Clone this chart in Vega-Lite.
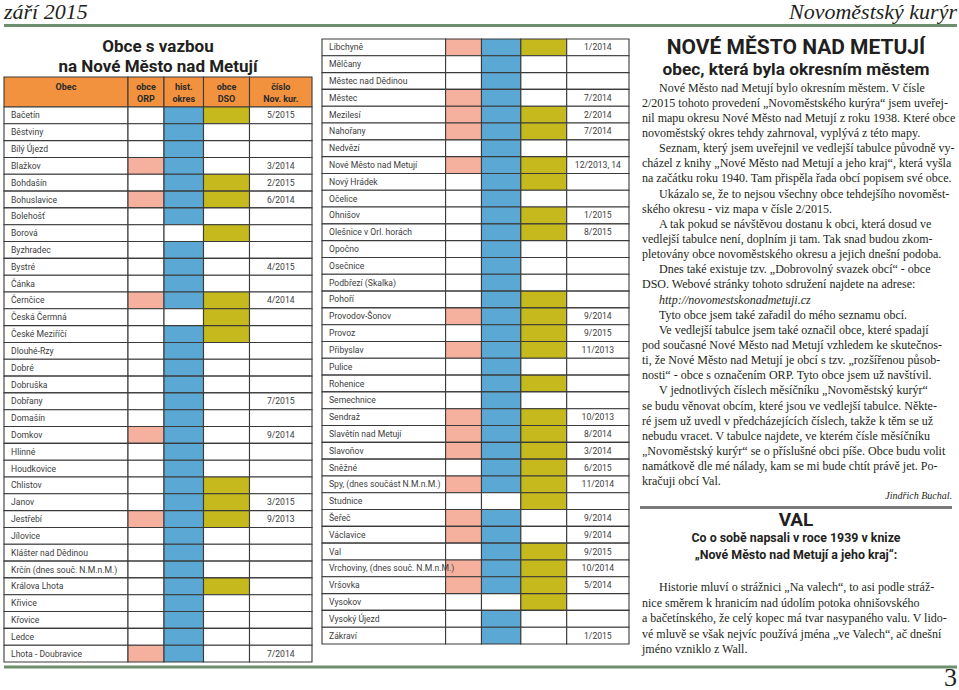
{
"$schema": "https://vega.github.io/schema/vega-lite/v6.json",
"padding": {"left": 2, "top": 0, "right": 0, "bottom": 0},
"background": "white",
"config": {"view": {"stroke": null}},
"datasets": {
"cols": [{"col":"obec","x0":0,"x1":124},{"col":"orp","x0":124,"x1":160},{"col":"okres","x0":160,"x1":199.5},{"col":"dso","x0":199.5,"x1":245.5},{"col":"cislo","x0":245.5,"x1":308}],
"hdr": [{"col":"obec","line":1,"t":"Obec"},{"col":"orp","line":1,"t":"obce"},{"col":"orp","line":2,"t":"ORP"},{"col":"okres","line":1,"t":"hist."},{"col":"okres","line":2,"t":"okres"},{"col":"dso","line":1,"t":"obce"},{"col":"dso","line":2,"t":"DSO"},{"col":"cislo","line":1,"t":"číslo"},{"col":"cislo","line":2,"t":"Nov. kur."}],
"top": [{"t":"září 2015","pos":"left"},{"t":"Novoměstský kurýr","pos":"right"}],
"ttl": [{"ln":1,"t":"Obce s vazbou"},{"ln":2,"t":"na Nové Město nad Metují"}],
"left": [
{"obec":"Bačetín","orp":0,"okres":1,"dso":1,"cislo":"5/2015"},
{"obec":"Běstviny","orp":0,"okres":1,"dso":0,"cislo":""},
{"obec":"Bílý Újezd","orp":0,"okres":1,"dso":0,"cislo":""},
{"obec":"Blažkov","orp":1,"okres":1,"dso":0,"cislo":"3/2014"},
{"obec":"Bohdašín","orp":0,"okres":1,"dso":1,"cislo":"2/2015"},
{"obec":"Bohuslavice","orp":1,"okres":1,"dso":1,"cislo":"6/2014"},
{"obec":"Bolehošť","orp":0,"okres":1,"dso":0,"cislo":""},
{"obec":"Borová","orp":0,"okres":0,"dso":1,"cislo":""},
{"obec":"Byzhradec","orp":0,"okres":1,"dso":0,"cislo":""},
{"obec":"Bystré","orp":0,"okres":1,"dso":0,"cislo":"4/2015"},
{"obec":"Čánka","orp":0,"okres":1,"dso":0,"cislo":""},
{"obec":"Černčice","orp":1,"okres":1,"dso":1,"cislo":"4/2014"},
{"obec":"Česká Čermná","orp":0,"okres":0,"dso":1,"cislo":""},
{"obec":"České Meziříčí","orp":0,"okres":1,"dso":1,"cislo":""},
{"obec":"Dlouhé-Rzy","orp":0,"okres":1,"dso":0,"cislo":""},
{"obec":"Dobré","orp":0,"okres":1,"dso":0,"cislo":""},
{"obec":"Dobruška","orp":0,"okres":1,"dso":0,"cislo":""},
{"obec":"Dobřany","orp":0,"okres":1,"dso":0,"cislo":"7/2015"},
{"obec":"Domašín","orp":0,"okres":1,"dso":0,"cislo":""},
{"obec":"Domkov","orp":1,"okres":1,"dso":0,"cislo":"9/2014"},
{"obec":"Hlinné","orp":0,"okres":1,"dso":0,"cislo":""},
{"obec":"Houdkovice","orp":0,"okres":1,"dso":0,"cislo":""},
{"obec":"Chlistov","orp":0,"okres":1,"dso":1,"cislo":""},
{"obec":"Janov","orp":0,"okres":1,"dso":1,"cislo":"3/2015"},
{"obec":"Jestřebí","orp":1,"okres":1,"dso":1,"cislo":"9/2013"},
{"obec":"Jílovice","orp":0,"okres":1,"dso":0,"cislo":""},
{"obec":"Klášter nad Dědinou","orp":0,"okres":1,"dso":0,"cislo":""},
{"obec":"Krčín (dnes souč. N.M.n.M.)","orp":0,"okres":1,"dso":0,"cislo":""},
{"obec":"Králova Lhota","orp":0,"okres":1,"dso":1,"cislo":""},
{"obec":"Křivice","orp":0,"okres":1,"dso":0,"cislo":""},
{"obec":"Křovice","orp":0,"okres":1,"dso":0,"cislo":""},
{"obec":"Ledce","orp":0,"okres":1,"dso":0,"cislo":""},
{"obec":"Lhota - Doubravice","orp":1,"okres":1,"dso":0,"cislo":"7/2014"}
],
"mid": [
{"obec":"Libchyně","orp":1,"okres":1,"dso":1,"cislo":"1/2014"},
{"obec":"Mělčany","orp":0,"okres":1,"dso":0,"cislo":""},
{"obec":"Městec nad Dědinou","orp":0,"okres":1,"dso":0,"cislo":""},
{"obec":"Městec","orp":1,"okres":1,"dso":0,"cislo":"7/2014"},
{"obec":"Mezilesí","orp":1,"okres":1,"dso":1,"cislo":"2/2014"},
{"obec":"Nahořany","orp":1,"okres":1,"dso":1,"cislo":"7/2014"},
{"obec":"Nedvězí","orp":0,"okres":1,"dso":0,"cislo":""},
{"obec":"Nové Město nad Metují","orp":1,"okres":1,"dso":1,"cislo":"12/2013, 14"},
{"obec":"Nový Hrádek","orp":0,"okres":1,"dso":1,"cislo":""},
{"obec":"Očelice","orp":0,"okres":1,"dso":0,"cislo":""},
{"obec":"Ohnišov","orp":0,"okres":1,"dso":1,"cislo":"1/2015"},
{"obec":"Olešnice v Orl. horách","orp":0,"okres":1,"dso":1,"cislo":"8/2015"},
{"obec":"Opočno","orp":0,"okres":1,"dso":0,"cislo":""},
{"obec":"Osečnice","orp":0,"okres":1,"dso":0,"cislo":""},
{"obec":"Podbřezí (Skalka)","orp":0,"okres":1,"dso":0,"cislo":""},
{"obec":"Pohoří","orp":0,"okres":1,"dso":1,"cislo":""},
{"obec":"Provodov-Šonov","orp":1,"okres":1,"dso":1,"cislo":"9/2014"},
{"obec":"Provoz","orp":0,"okres":1,"dso":1,"cislo":"9/2015"},
{"obec":"Přibyslav","orp":1,"okres":1,"dso":1,"cislo":"11/2013"},
{"obec":"Pulice","orp":0,"okres":1,"dso":0,"cislo":""},
{"obec":"Rohenice","orp":0,"okres":1,"dso":1,"cislo":""},
{"obec":"Semechnice","orp":0,"okres":1,"dso":0,"cislo":""},
{"obec":"Sendraž","orp":1,"okres":1,"dso":1,"cislo":"10/2013"},
{"obec":"Slavětín nad Metují","orp":1,"okres":1,"dso":1,"cislo":"8/2014"},
{"obec":"Slavoňov","orp":1,"okres":1,"dso":1,"cislo":"3/2014"},
{"obec":"Sněžné","orp":0,"okres":1,"dso":1,"cislo":"6/2015"},
{"obec":"Spy, (dnes součást N.M.n.M.)","orp":1,"okres":1,"dso":1,"cislo":"11/2014"},
{"obec":"Studnice","orp":0,"okres":0,"dso":1,"cislo":""},
{"obec":"Šeřeč","orp":1,"okres":1,"dso":0,"cislo":"9/2014"},
{"obec":"Václavice","orp":1,"okres":1,"dso":0,"cislo":"9/2014"},
{"obec":"Val","orp":0,"okres":1,"dso":1,"cislo":"9/2015"},
{"obec":"Vrchoviny, (dnes souč. N.M.n.M.)","orp":1,"okres":1,"dso":1,"cislo":"10/2014"},
{"obec":"Vršovka","orp":1,"okres":1,"dso":1,"cislo":"5/2014"},
{"obec":"Vysokov","orp":0,"okres":0,"dso":1,"cislo":""},
{"obec":"Vysoký Újezd","orp":0,"okres":1,"dso":0,"cislo":""},
{"obec":"Zákraví","orp":0,"okres":1,"dso":0,"cislo":"1/2015"}
],
"rh": [{"ln":1,"t":"NOVÉ MĚSTO NAD METUJÍ"},{"ln":2,"t":"obec, která byla okresním městem"}],
"txt1": [
{"ln":0,"k":"p","t":"Nové Město nad Metují bylo okresním městem. V čísle"},
{"ln":1,"k":"c","t":"2/2015 tohoto provedení „Novoměstského kurýra“ jsem uveřej-"},
{"ln":2,"k":"c","t":"nil mapu okresu Nové Město nad Metují z roku 1938. Které obce"},
{"ln":3,"k":"c","t":"novoměstský okres tehdy zahrnoval, vyplývá z této mapy."},
{"ln":4,"k":"p","t":"Seznam, který jsem uveřejnil ve vedlejší tabulce původně vy-"},
{"ln":5,"k":"c","t":"cházel z knihy „Nové Město nad Metují a jeho kraj“, která vyšla"},
{"ln":6,"k":"c","t":"na začátku roku 1940. Tam přispěla řada obcí popisem své obce."},
{"ln":7,"k":"p","t":"Ukázalo se, že to nejsou všechny obce tehdejšího novoměst-"},
{"ln":8,"k":"c","t":"ského okresu - viz mapa v čísle 2/2015."},
{"ln":9,"k":"p","t":"A tak pokud se návštěvou dostanu k obci, která dosud ve"},
{"ln":10,"k":"c","t":"vedlejší tabulce není, doplním ji tam. Tak snad budou zkom-"},
{"ln":11,"k":"c","t":"pletovány obce novoměstského okresu a jejich dnešní podoba."},
{"ln":12,"k":"p","t":"Dnes také existuje tzv. „Dobrovolný svazek obcí“ - obce"},
{"ln":13,"k":"c","t":"DSO. Webové stránky tohoto sdružení najdete na adrese:"},
{"ln":14,"k":"url","t":"http://novomestskonadmetuji.cz"},
{"ln":15,"k":"p","t":"Tyto obce jsem také zařadil do mého seznamu obcí."},
{"ln":16,"k":"p","t":"Ve vedlejší tabulce jsem také označil obce, které spadají"},
{"ln":17,"k":"c","t":"pod současné Nové Město nad Metují vzhledem ke skutečnos-"},
{"ln":18,"k":"c","t":"ti, že Nové Město nad Metují je obcí s tzv. „rozšířenou působ-"},
{"ln":19,"k":"c","t":"nosti“ - obce s označením ORP.  Tyto obce jsem už navštívil."},
{"ln":20,"k":"p","t":"V jednotlivých číslech měsíčníku „Novoměstský kurýr“"},
{"ln":21,"k":"c","t":"se budu věnovat obcím, které jsou ve vedlejší tabulce. Někte-"},
{"ln":22,"k":"c","t":"ré jsem už uvedl v předcházejících číslech, takže k těm se už"},
{"ln":23,"k":"c","t":"nebudu vracet. V tabulce najdete, ve kterém čísle měsíčníku"},
{"ln":24,"k":"c","t":"„Novoměstský kurýr“ se o příslušné obci píše. Obce budu volit"},
{"ln":25,"k":"c","t":"namátkově dle mé nálady, kam se mi bude chtít právě jet. Po-"},
{"ln":26,"k":"c","t":"kračuji obcí Val."},
{"ln":27,"k":"sig","t":"Jindřich Buchal."}
],
"valh": [{"ln":1,"t":"VAL"},{"ln":2,"t":"Co o sobě napsali v roce 1939 v knize"},{"ln":3,"t":"„Nové Město nad Metují a jeho kraj“:"}],
"txt2": [
{"ln":1,"k":"p","t":"Historie mluví o strážnici „Na valech“, to asi podle stráž-"},
{"ln":2,"k":"c","t":"nice směrem k hranicím nad údolím potoka ohnišovského"},
{"ln":3,"k":"c","t":"a bačetínského, že celý kopec má tvar nasypaného valu. V lido-"},
{"ln":4,"k":"c","t":"vé mluvě se však nejvíc používá jména „ve Valech“, ač dnešní"},
{"ln":5,"k":"c","t":"jméno vzniklo z Wall."}
]
},
"spacing": 0,
"vconcat": [
{
"width": 953, "height": 23,
"data": {"name": "top"},
"layer": [
{"transform": [{"filter": "datum.pos === 'left'"}], "mark": {"type": "text", "align": "left", "baseline": "middle", "font": "Liberation Serif", "fontStyle": "italic", "fontSize": 22, "color": "#231f20"}, "encoding": {"x": {"datum": 0, "type": "quantitative", "scale": {"domain": [0, 1], "nice": false}, "axis": null}, "text": {"field": "t"}}},
{"transform": [{"filter": "datum.pos === 'right'"}], "mark": {"type": "text", "align": "right", "baseline": "middle", "font": "Liberation Serif", "fontStyle": "italic", "fontSize": 22, "color": "#231f20"}, "encoding": {"x": {"datum": 1, "type": "quantitative"}, "text": {"field": "t"}}}
]
},
{
"width": 953, "height": 5,
"data": {"values": [{}]},
"mark": {"type": "rule", "color": "#6e8f6e", "strokeWidth": 3},
"encoding": {"y": {"datum": 0.5, "type": "quantitative", "scale": {"domain": [0, 1], "nice": false}, "axis": null}}
},
{
"hconcat": [
{
"vconcat": [
{
"width": 308, "height": 49,
"data": {"name": "ttl"},
"mark": {"type": "text", "align": "center", "baseline": "middle", "font": "Roboto", "fontWeight": "bold", "fontSize": 17, "color": "#231f20"},
"encoding": {
"x": {"datum": 0.5, "type": "quantitative", "scale": {"domain": [0, 1], "nice": false}, "axis": null},
"y": {"field": "ln", "type": "ordinal", "scale": {"type": "point", "padding": 0.725, "align": 0.655}, "axis": null},
"text": {"field": "t"}
}
},
{
"width": 308, "height": 30,
"layer": [
{"data": {"name": "cols"}, "mark": {"type": "rect", "fill": "#f3923e", "stroke": "#3a3a3a", "strokeWidth": 1.1}, "encoding": {"x": {"field": "x0", "type": "quantitative", "scale": {"domain": [0, 308], "nice": false, "zero": false}, "axis": null}, "x2": {"field": "x1"}}},
{"data": {"name": "hdr"}, "transform": [{"lookup": "col", "from": {"data": {"name": "cols"}, "key": "col", "fields": ["x0", "x1"]}}, {"calculate": "(datum.x0 + datum.x1) / 2", "as": "xm"}],
"mark": {"type": "text", "align": "center", "baseline": "middle", "font": "Roboto", "fontWeight": "bold", "fontSize": 9, "color": "#2b2b2b"},
"encoding": {"x": {"field": "xm", "type": "quantitative"}, "y": {"field": "line", "type": "ordinal", "scale": {"type": "point", "padding": 0.75, "align": 0.556}, "axis": null}, "text": {"field": "t"}}}
]
},
{
"width": 308, "height": 555,
"data": {"name": "left"},
"encoding": {"y": {"field": "obec", "type": "nominal", "sort": null, "scale": {"type": "band", "paddingInner": 0, "paddingOuter": 0}, "axis": null}},
"layer": [
{"transform": [{"fold": ["obec", "orp", "okres", "dso", "cislo"], "as": ["col", "v"]}, {"lookup": "col", "from": {"data": {"name": "cols"}, "key": "col", "fields": ["x0", "x1"]}}, {"calculate": "(datum.col !== 'obec' && datum.col !== 'cislo' && datum.v === 1) ? datum.col : 'none'", "as": "fc"}],
"mark": {"type": "rect", "stroke": "#3a3a3a", "strokeWidth": 1.1},
"encoding": {"x": {"field": "x0", "type": "quantitative", "scale": {"domain": [0, 308], "nice": false, "zero": false}, "axis": null}, "x2": {"field": "x1"}, "fill": {"field": "fc", "type": "nominal", "scale": {"domain": ["none", "orp", "okres", "dso"], "range": ["#ffffff", "#f6b19e", "#5aa8d3", "#c5b91e"]}, "legend": null}}},
{"mark": {"type": "text", "align": "left", "baseline": "middle", "dx": 7, "font": "Roboto", "fontSize": 8.6, "color": "#3d3d3d"}, "encoding": {"x": {"datum": 0, "type": "quantitative"}, "text": {"field": "obec"}}},
{"transform": [{"calculate": "'cislo'", "as": "col"}, {"lookup": "col", "from": {"data": {"name": "cols"}, "key": "col", "fields": ["x0", "x1"]}}, {"calculate": "(datum.x0 + datum.x1) / 2", "as": "xm"}],
"mark": {"type": "text", "align": "center", "baseline": "middle", "font": "Roboto", "fontSize": 8.6, "color": "#3d3d3d"}, "encoding": {"x": {"field": "xm", "type": "quantitative"}, "text": {"field": "cislo"}}}
]
}
],
"spacing": 0,
"bounds": "flush",
"resolve": {"scale": {"x": "independent", "y": "independent"}}
},
{
"width": 307, "height": 616,
"data": {"name": "mid"},
"encoding": {"y": {"field": "obec", "type": "nominal", "sort": null, "scale": {"type": "band", "paddingInner": 0, "paddingOuter": 0.3274, "align": 1}, "axis": null}},
"layer": [
{"transform": [{"fold": ["obec", "orp", "okres", "dso", "cislo"], "as": ["col", "v"]}, {"lookup": "col", "from": {"data": {"name": "cols"}, "key": "col", "fields": ["x0", "x1"]}}, {"calculate": "(datum.col !== 'obec' && datum.col !== 'cislo' && datum.v === 1) ? datum.col : 'none'", "as": "fc"}],
"mark": {"type": "rect", "stroke": "#3a3a3a", "strokeWidth": 1.1},
"encoding": {"x": {"field": "x0", "type": "quantitative", "scale": {"domain": [0, 308], "nice": false, "zero": false}, "axis": null}, "x2": {"field": "x1"}, "fill": {"field": "fc", "type": "nominal", "scale": {"domain": ["none", "orp", "okres", "dso"], "range": ["#ffffff", "#f6b19e", "#5aa8d3", "#c5b91e"]}, "legend": null}}},
{"mark": {"type": "text", "align": "left", "baseline": "middle", "dx": 7, "font": "Roboto", "fontSize": 8.6, "color": "#3d3d3d"}, "encoding": {"x": {"datum": 0, "type": "quantitative"}, "text": {"field": "obec"}}},
{"transform": [{"calculate": "'cislo'", "as": "col"}, {"lookup": "col", "from": {"data": {"name": "cols"}, "key": "col", "fields": ["x0", "x1"]}}, {"calculate": "(datum.x0 + datum.x1) / 2", "as": "xm"}],
"mark": {"type": "text", "align": "center", "baseline": "middle", "font": "Roboto", "fontSize": 8.6, "color": "#3d3d3d"}, "encoding": {"x": {"field": "xm", "type": "quantitative"}, "text": {"field": "cislo"}}}
]
},
{
"vconcat": [
{
"width": 312, "height": 52,
"data": {"name": "rh"},
"encoding": {
"x": {"datum": 0.5, "type": "quantitative", "scale": {"domain": [0, 1], "nice": false}, "axis": null},
"y": {"field": "ln", "type": "ordinal", "scale": {"type": "point", "padding": 0.682, "align": 0.667}, "axis": null},
"text": {"field": "t"}
},
"layer": [
{"transform": [{"filter": "datum.ln === 1"}], "mark": {"type": "text", "align": "center", "baseline": "middle", "font": "Roboto", "fontWeight": "bold", "fontSize": 21, "color": "#231f20"}},
{"transform": [{"filter": "datum.ln === 2"}], "mark": {"type": "text", "align": "center", "baseline": "middle", "font": "Roboto", "fontWeight": "bold", "fontSize": 17.3, "color": "#231f20"}}
]
},
{
"width": 312, "height": 424,
"data": {"name": "txt1"},
"encoding": {
"x": {"datum": 0, "type": "quantitative", "scale": {"domain": [0, 1], "nice": false}, "axis": null},
"y": {"field": "ln", "type": "ordinal", "scale": {"type": "band", "paddingInner": 0, "paddingOuter": 0, "domain": [0,1,2,3,4,5,6,7,8,9,10,11,12,13,14,15,16,17,18,19,20,21,22,23,24,25,26,27]}, "axis": null},
"text": {"field": "t"}
},
"layer": [
{"transform": [{"filter": "datum.k === 'c'"}], "mark": {"type": "text", "align": "left", "baseline": "middle", "dx": 2, "font": "Liberation Serif", "fontSize": 12, "color": "#231f20"}},
{"transform": [{"filter": "datum.k === 'p'"}], "mark": {"type": "text", "align": "left", "baseline": "middle", "dx": 19, "font": "Liberation Serif", "fontSize": 12, "color": "#231f20"}},
{"transform": [{"filter": "datum.k === 'url'"}], "mark": {"type": "text", "align": "left", "baseline": "middle", "dx": 19, "font": "Liberation Serif", "fontStyle": "italic", "fontSize": 12, "color": "#231f20"}},
{"transform": [{"filter": "datum.k === 'sig'"}], "mark": {"type": "text", "align": "right", "baseline": "middle", "font": "Liberation Serif", "fontStyle": "italic", "fontSize": 10, "color": "#231f20"}, "encoding": {"x": {"datum": 1, "type": "quantitative"}}}
]
},
{
"width": 312, "height": 7,
"data": {"values": [{}]},
"mark": {"type": "rule", "color": "#7b7b7b", "strokeWidth": 3},
"encoding": {"y": {"datum": 0.5, "type": "quantitative", "scale": {"domain": [0, 1], "nice": false}, "axis": null}}
},
{
"width": 312, "height": 53,
"data": {"name": "valh"},
"encoding": {
"x": {"datum": 0.5, "type": "quantitative", "scale": {"domain": [0, 1], "nice": false}, "axis": null},
"y": {"field": "ln", "type": "ordinal", "scale": {"type": "band", "paddingInner": 0, "paddingOuter": 0}, "axis": null},
"text": {"field": "t"}
},
"layer": [
{"transform": [{"filter": "datum.ln === 1"}], "mark": {"type": "text", "align": "center", "baseline": "middle", "font": "Roboto", "fontWeight": "bold", "fontSize": 19, "color": "#231f20"}},
{"transform": [{"filter": "datum.ln > 1"}], "mark": {"type": "text", "align": "center", "baseline": "middle", "font": "Roboto", "fontWeight": "bold", "fontSize": 12.4, "color": "#231f20"}}
]
},
{
"width": 312, "height": 93,
"data": {"name": "txt2"},
"encoding": {
"x": {"datum": 0, "type": "quantitative", "scale": {"domain": [0, 1], "nice": false}, "axis": null},
"y": {"field": "ln", "type": "ordinal", "scale": {"type": "band", "paddingInner": 0, "paddingOuter": 0, "domain": [0,1,2,3,4,5]}, "axis": null},
"text": {"field": "t"}
},
"layer": [
{"transform": [{"filter": "datum.k === 'c'"}], "mark": {"type": "text", "align": "left", "baseline": "middle", "dx": 2, "font": "Liberation Serif", "fontSize": 12, "color": "#231f20"}},
{"transform": [{"filter": "datum.k === 'p'"}], "mark": {"type": "text", "align": "left", "baseline": "middle", "dx": 19, "font": "Liberation Serif", "fontSize": 12, "color": "#231f20"}}
]
}
],
"spacing": 0,
"bounds": "flush",
"resolve": {"scale": {"x": "independent", "y": "independent"}}
}
],
"spacing": 8
},
{
"width": 953, "height": 28,
"data": {"values": [{"t": "3", "k": "num"}]},
"encoding": {"y": {"datum": 1.3, "type": "quantitative", "scale": {"domain": [0, 7], "nice": false}, "axis": null}},
"layer": [
{"mark": {"type": "rule", "color": "#6e8f6e", "strokeWidth": 3}, "encoding": {"y": {"datum": 6, "type": "quantitative"}}},
{"mark": {"type": "text", "align": "right", "baseline": "alphabetic", "font": "Liberation Serif", "fontSize": 26, "color": "#231f20"}, "encoding": {"x": {"datum": 1, "type": "quantitative", "scale": {"domain": [0, 1], "nice": false}, "axis": null}, "text": {"field": "t"}}}
]
}
]
}
